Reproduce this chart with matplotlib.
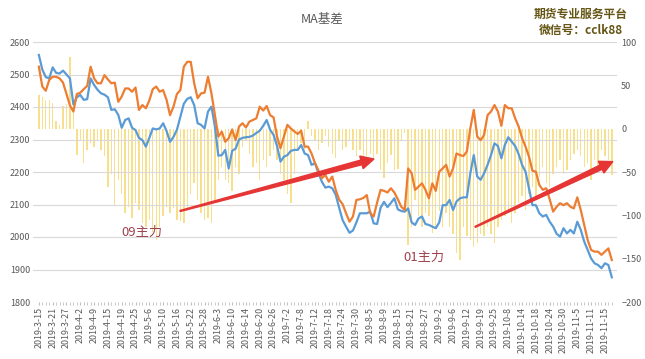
import numpy as np
import matplotlib
matplotlib.use('Agg')
import matplotlib.pyplot as plt
from matplotlib.patches import Polygon
from matplotlib.transforms import IdentityTransform

plt.rcParams['font.family'] = ['Noto Sans CJK SC', 'DejaVu Sans']

# x tick labels, one every 4 trading days
tick_labels = ['2019-3-15', '2019-3-21', '2019-3-27', '2019-4-2', '2019-4-9', '2019-4-15',
               '2019-4-19', '2019-4-25', '2019-5-6', '2019-5-10', '2019-5-16', '2019-5-22',
               '2019-5-28', '2019-6-3', '2019-6-10', '2019-6-14', '2019-6-20', '2019-6-26',
               '2019-7-2', '2019-7-8', '2019-7-12', '2019-7-18', '2019-7-24', '2019-7-30',
               '2019-8-5', '2019-8-9', '2019-8-15', '2019-8-21', '2019-8-27', '2019-9-2',
               '2019-9-6', '2019-9-12', '2019-9-19', '2019-9-25', '2019-10-8', '2019-10-14',
               '2019-10-18', '2019-10-24', '2019-10-30', '2019-11-5', '2019-11-11', '2019-11-15']

# blue line (left axis)
spot = [2560, 2515, 2492, 2488, 2522, 2505, 2503, 2512, 2500, 2488,
        2408, 2430, 2437, 2422, 2424, 2488, 2468, 2453, 2442, 2438,
        2430, 2391, 2393, 2376, 2336, 2360, 2365, 2336, 2329, 2305,
        2298, 2278, 2305, 2334, 2331, 2334, 2350, 2326, 2293, 2308,
        2330, 2370, 2410, 2425, 2430, 2406, 2350, 2345, 2334, 2386,
        2401, 2340, 2250, 2252, 2268, 2211, 2265, 2272, 2300, 2305,
        2307, 2308, 2312, 2320, 2327, 2342, 2360, 2330, 2314, 2280,
        2232, 2247, 2252, 2265, 2268, 2268, 2283, 2257, 2252, 2222,
        2227, 2196, 2170, 2152, 2155, 2150, 2130, 2090, 2052, 2032,
        2013, 2020, 2045, 2073, 2073, 2073, 2078, 2042, 2040, 2090,
        2108, 2092, 2105, 2119, 2085, 2080, 2078, 2088, 2045, 2037,
        2057, 2063, 2040, 2037, 2032, 2027, 2045, 2098, 2098, 2114,
        2083, 2109, 2119, 2122, 2122, 2196, 2252, 2186, 2176, 2196,
        2222, 2252, 2288, 2280, 2242, 2283, 2307, 2293, 2280, 2255,
        2222, 2201, 2150, 2098, 2098, 2073, 2063, 2068, 2047, 2032,
        2010, 2001, 2027, 2011, 2022, 2011, 2047, 2022, 1986, 1960,
        1934, 1919, 1914, 1904, 1919, 1914, 1876]

# orange line (left axis)
futures = [2524, 2463, 2450, 2483, 2493, 2493, 2488, 2475, 2440, 2405,
           2386, 2440, 2444, 2455, 2465, 2524, 2488, 2473, 2473, 2498,
           2485, 2473, 2475, 2416, 2432, 2457, 2457, 2447, 2460, 2391,
           2406, 2396, 2420, 2455, 2463, 2447, 2452, 2422, 2375, 2401,
           2440, 2452, 2524, 2539, 2539, 2473, 2427, 2442, 2444, 2493,
           2442, 2375, 2309, 2324, 2293, 2304, 2331, 2298, 2340, 2350,
           2337, 2355, 2360, 2365, 2401, 2389, 2403, 2375, 2368, 2309,
           2273, 2309, 2345, 2334, 2325, 2317, 2327, 2278, 2278, 2257,
           2227, 2205, 2181, 2191, 2170, 2186, 2145, 2115, 2101, 2073,
           2047, 2063, 2114, 2116, 2120, 2129, 2073, 2063, 2106, 2145,
           2142, 2137, 2150, 2137, 2116, 2093, 2083, 2211, 2196, 2145,
           2155, 2165, 2145, 2119, 2165, 2142, 2201, 2211, 2222, 2186,
           2211, 2257, 2252, 2249, 2263, 2334, 2391, 2309, 2298, 2314,
           2375, 2386, 2406, 2386, 2342, 2406, 2396, 2396, 2365, 2340,
           2304, 2278, 2247, 2204, 2201, 2160, 2145, 2150, 2116, 2078,
           2093, 2104, 2098, 2104, 2093, 2088, 2122, 2083, 2037, 1991,
           1960, 1955, 1955, 1945, 1955, 1965, 1929]

# basis bars (right axis)
basis = [39, 37, 33, 33, 30, 9, 4, 26, 28, 83, 26,
         -30, -13, -40, -25, -17, -21, -13, -25, -32, -67,
         -52, -88, -59, -75, -97, -90, -103, -86, -94, -109,
         -113, -105, -119, -128, -113, -101, -90, -97, -92, -105,
         -107, -109, -95, -75, -63, -82, -97, -105, -103, -109,
         -82, -59, -44, -59, -63, -72, -44, -52,
         -21, -13, -29, -44, -40, -59, -36, -44, -32, -25, -36, -52,
         -59, -75, -86, -52, -25, -17, -25, 9, -9, -13,
         -25, -17, -9, -21, -29, -34, -13, -25, -21, -13,
         -25, -32, -25, -44, -32, -29, -36, -29, -48, -57,
         -40, -30, -48, -46, -13, -5, -134, -113, -82, -101,
         -113, -97, -101, -120, -115, -95,
         -113, -97, -113, -121, -144, -152, -113, -124, -128, -136,
         -132, -121, -124, -113, -121, -132, -113, -105, -101, -97,
         -109, -97, -86, -78, -94, -75, -67, -78, -56, -44,
         -63, -67, -52, -44, -36, -52, -48, -36, -29, -25,
         -32, -44, -40, -59, -36, -44, -25, -32, -36, -54]

x = np.arange(len(spot))
gray = '#595959'

fig = plt.figure(figsize=(6.45, 3.59), dpi=100)
ax = fig.add_axes([33/645, 57/359, 584/645, 260/359])
ax2 = ax.twinx()

# bars behind the lines
ax2.bar(x, basis, width=0.4, color='#F7DA78', alpha=0.85)
ax.set_zorder(ax2.get_zorder() + 1)
ax.patch.set_visible(False)

ax.plot(x, spot, color='#5B9BD5', lw=1.6)
ax.plot(x, futures, color='#ED7D31', lw=1.6)

ax.set_xlim(-1.7, 167.5)
ax.set_ylim(1800, 2600)
ax.set_yticks(range(1800, 2601, 100))
ax2.set_ylim(-200, 100)
ax2.set_yticks(range(-200, 101, 50))

ax.grid(axis='y', color='#D9D9D9', lw=0.8)
ax.set_xticks(x[::4])
ax.set_xticklabels(tick_labels, rotation=90, fontsize=6.4, color=gray)
ax.set_xticks(x, minor=True)
ax.tick_params(axis='x', which='both', length=2, color='#BFBFBF', pad=1.5)
ax.tick_params(axis='y', length=0, labelsize=6.5, labelcolor=gray, pad=2)
ax2.tick_params(axis='y', length=0, labelsize=6.5, labelcolor=gray, pad=3)
for a in (ax, ax2):
    for s in a.spines.values():
        s.set_visible(False)

fig.text(0.5, 1 - 19/359, 'MA基差', ha='center', va='center', fontsize=9, color=gray)
fig.text(581/645, 1 - 14/359, '期货专业服务平台', ha='center', va='center',
         fontsize=8.5, fontweight='bold', color='#665615')
fig.text(581/645, 1 - 30/359, '微信号：cclk88', ha='center', va='center',
         fontsize=8.5, fontweight='bold', color='#665615')

ax.text(30, 2014, '09主力', ha='center', va='center', fontsize=9.5, color='#A0424E')
ax.text(111.6, 1938, '01主力', ha='center', va='center', fontsize=9.5, color='#A0424E')


def red_arrow(tail, tip):
    # tapered arrow drawn in pixel space
    p0 = np.array(ax.transData.transform(tail))
    p1 = np.array(ax.transData.transform(tip))
    d = p1 - p0
    u = d / np.hypot(*d)
    n = np.array([-u[1], u[0]])
    base = p1 - u * 13
    pts = [p0 + n * 0.5, base + n * 2.4, base + n * 6.5, p1,
           base - n * 6.5, base - n * 2.4, p0 - n * 0.5]
    fig.add_artist(Polygon(pts, closed=True, transform=IdentityTransform(),
                           color='#E63535', zorder=10))


red_arrow((40.9, 2080), (97.1, 2240))
red_arrow((126.4, 2031), (166.3, 2232))

fig.savefig('out.png', dpi=100)
